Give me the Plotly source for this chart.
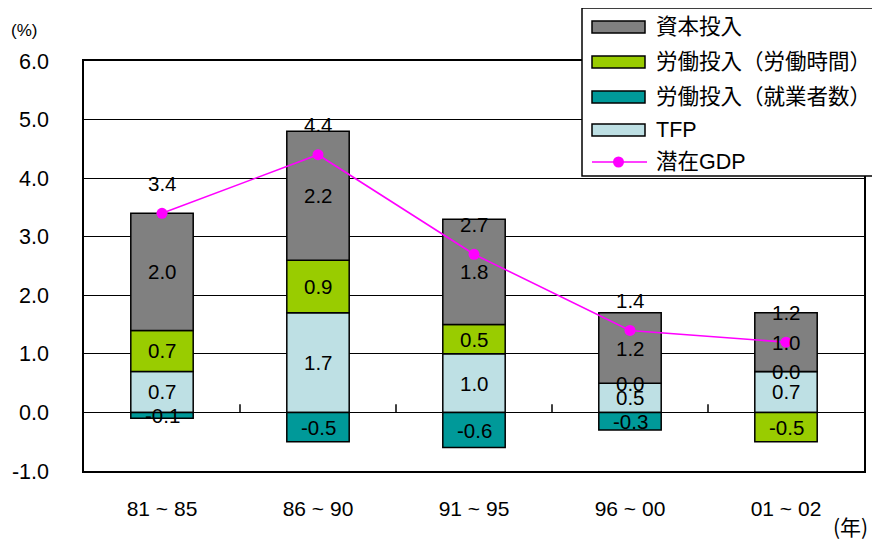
import plotly.graph_objects as go

# ---------------- data ----------------
categories = ["81 ~ 85", "86 ~ 90", "91 ~ 95", "96 ~ 00", "01 ~ 02"]
capital = [2.0, 2.2, 1.8, 1.2, 1.0]          # 資本投入
labor_hours = [0.7, 0.9, 0.5, 0.0, -0.5]     # 労働投入（労働時間）
employment = [-0.1, -0.5, -0.6, -0.3, 0.0]   # 労働投入（就業者数）
tfp = [0.7, 1.7, 1.0, 0.5, 0.7]              # TFP
gdp = [3.4, 4.4, 2.7, 1.4, 1.2]              # 潜在GDP
y_ticks = [-1.0, 0.0, 1.0, 2.0, 3.0, 4.0, 5.0, 6.0]
y_tick_labels = ["-1.0", "0.0", "1.0", "2.0", "3.0", "4.0", "5.0", "6.0"]

name_capital = "資本投入"
name_hours = "労働投入（労働時間）"
name_emp = "労働投入（就業者数）"
name_tfp = "TFP"
name_gdp = "潜在GDP"

col_capital = "#808080"
col_hours = "#99CC00"
col_emp = "#009999"
col_tfp = "#BEE0E4"
col_gdp = "#FF00FF"

FONT = "Liberation Sans, Arial, 'Noto Sans CJK JP', sans-serif"
CJK = "'Noto Sans CJK JP', 'Liberation Sans', sans-serif"

# page offset (browser body margin) and plot area in page pixels
OFF = 8
L, R, T, B = 84, 864, 61, 471
W, H = 880 - OFF, 546 - OFF


def X(p):
    return (p - L) / (R - L)


def Y(p):
    return (B - p) / (B - T)


fig = go.Figure()

# stacking order (bottom to top)
stack = [(name_tfp, tfp, col_tfp),
         (name_hours, labor_hours, col_hours),
         (name_emp, employment, col_emp),
         (name_capital, capital, col_capital)]

for nm, vals, col in stack:
    fig.add_trace(go.Bar(
        x=categories, y=vals, name=nm, width=0.4,
        marker=dict(color=col, line=dict(color="black", width=1.5)),
        showlegend=False, hoverinfo="x+y+name"))

fig.add_trace(go.Scatter(
    x=categories, y=gdp, name=name_gdp, mode="lines+markers",
    line=dict(color=col_gdp, width=1.6),
    marker=dict(color=col_gdp, size=11),
    showlegend=False))

annotations = []
# bar value labels at the centre of each segment
pos = [0.0] * len(categories)
neg = [0.0] * len(categories)
for nm, vals, col in stack:
    for i, v in enumerate(vals):
        if v >= 0:
            c = pos[i] + v / 2
            pos[i] += v
        else:
            c = neg[i] + v / 2
            neg[i] += v
        annotations.append(dict(
            x=categories[i], y=c, xref="x", yref="y", text=f"{v:.1f}",
            xanchor="center", yanchor="middle",
            showarrow=False, font=dict(family=FONT, size=20.5, color="black")))

# GDP labels above the points
for i, v in enumerate(gdp):
    annotations.append(dict(
        x=categories[i], y=v, xref="x", yref="y", text=f"{v:.1f}",
        xanchor="center", yanchor="middle",
        yshift=30, showarrow=False,
        font=dict(family=FONT, size=20.5, color="black")))

# unit labels
annotations.append(dict(x=X(24), y=Y(31), xref="paper", yref="paper", text="(%)",
                        xanchor="center", yanchor="middle",
                        showarrow=False, font=dict(family=FONT, size=17, color="black")))
annotations.append(dict(x=X(850), y=Y(526), xref="paper", yref="paper", text="(年)",
                        xanchor="center", yanchor="middle",
                        showarrow=False, font=dict(family=CJK, size=21, color="black")))

shapes = []
# small divider ticks on the zero line between categories
for i in range(len(categories) - 1):
    shapes.append(dict(type="line", xref="x", yref="y",
                       x0=i + 0.5, x1=i + 0.5, y0=0, y1=0.14,
                       line=dict(color="black", width=1.5)))

# custom legend
shapes.append(dict(type="rect", xref="paper", yref="paper",
                   x0=X(582), x1=X(878), y0=Y(176), y1=Y(8),
                   line=dict(color="black", width=1.5), fillcolor="white",
                   layer="above"))
legend_items = [(name_capital, col_capital, "bar"),
                (name_hours, col_hours, "bar"),
                (name_emp, col_emp, "bar"),
                (name_tfp, col_tfp, "bar"),
                (name_gdp, col_gdp, "line")]
row_y = [27, 62, 97, 130, 162]
for (nm, col, kind), yy in zip(legend_items, row_y):
    if kind == "bar":
        shapes.append(dict(type="rect", xref="paper", yref="paper",
                           x0=X(592), x1=X(645), y0=Y(yy + 6), y1=Y(yy - 6),
                           fillcolor=col, line=dict(color="black", width=1.5),
                           layer="above"))
    else:
        shapes.append(dict(type="line", xref="paper", yref="paper",
                           x0=X(592), x1=X(647), y0=Y(yy), y1=Y(yy),
                           line=dict(color=col, width=1.6), layer="above"))
        shapes.append(dict(type="circle", xref="paper", yref="paper",
                           x0=X(613), x1=X(624), y0=Y(yy + 5.5), y1=Y(yy - 5.5),
                           fillcolor=col, line=dict(color=col, width=0),
                           layer="above"))
    annotations.append(dict(x=X(654), y=Y(yy), xref="paper", yref="paper",
                            text=nm, xanchor="left", yanchor="middle",
                            showarrow=False,
                            font=dict(family=FONT, size=21.5, color="black")))

fig.update_layout(
    width=W, height=H,
    margin=dict(l=L - OFF, r=880 - R, t=T - OFF, b=546 - B, autoexpand=False),
    barmode="relative",
    plot_bgcolor="white", paper_bgcolor="white",
    showlegend=False,
    font=dict(family=FONT, color="black"),
    annotations=annotations,
    shapes=shapes,
)
fig.update_xaxes(
    showline=True, linecolor="black", linewidth=1.5, mirror=True,
    ticks="", showgrid=False,
    tickfont=dict(family=FONT, size=21, color="black"),
    ticklabelstandoff=18,
)
fig.update_yaxes(
    range=[-1, 6], tickvals=y_ticks, ticktext=y_tick_labels,
    showgrid=True, gridcolor="black", gridwidth=1.3,
    showline=True, linecolor="black", linewidth=1.5, mirror=True,
    zeroline=False, ticks="",
    tickfont=dict(family=FONT, size=21.5, color="black"),
    ticklabelstandoff=29,
)

fig.write_html("out.html")
